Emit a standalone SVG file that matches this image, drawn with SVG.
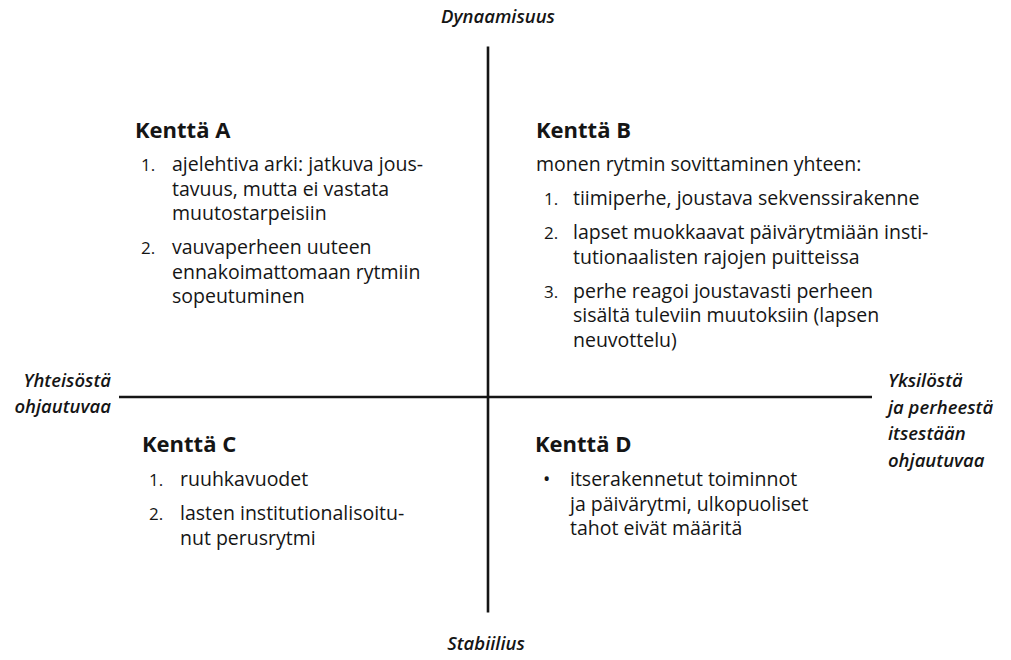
<svg xmlns="http://www.w3.org/2000/svg" width="1011" height="660" viewBox="0 0 1011 660">
<style>
text{font-family:"Open Sans","Noto Sans","Liberation Sans",sans-serif;fill:#151515}
.t{font-size:22px;font-weight:700}
.b{font-size:19.5px}
.n{font-size:17px}
.ax{font-size:18.5px;font-weight:600;font-style:italic}
.ax2{font-size:18.5px;font-weight:600;font-style:italic;text-anchor:end}
.ln{stroke:#151515;stroke-width:2.6;fill:none}
</style>
<rect width="1011" height="660" fill="#fff"/>
<g id="axes">
<line class="ln" x1="488" y1="46.5" x2="488" y2="612.5"/>
<line class="ln" x1="119" y1="397" x2="872" y2="397"/>
</g>
<g id="axis-labels">
<text class="ax" x="498" y="23" text-anchor="middle">Dynaamisuus</text>
<text class="ax" x="486" y="650" text-anchor="middle">Stabiilius</text>
<text class="ax2" x="111" y="387">Yhteisöstä</text>
<text class="ax2" x="111" y="413">ohjautuvaa</text>
<text class="ax" x="888" y="387">Yksilöstä</text>
<text class="ax" x="888" y="413.5">ja perheestä</text>
<text class="ax" x="888" y="440">itsestään</text>
<text class="ax" x="888" y="466.5">ohjautuvaa</text>
</g>
<g id="kentta-a">
<text class="t" x="135" y="138">Kenttä A</text>
<text class="b n" x="141" y="171">1.</text>
<text class="b" x="172" y="171">ajelehtiva arki: jatkuva jous-</text>
<text class="b" x="172" y="195.5">tavuus, mutta ei vastata</text>
<text class="b" x="172" y="220">muutostarpeisiin</text>
<text class="b n" x="141" y="254">2.</text>
<text class="b" x="172" y="254">vauvaperheen uuteen</text>
<text class="b" x="172" y="278.5">ennakoimattomaan rytmiin</text>
<text class="b" x="172" y="303">sopeutuminen</text>
</g>
<g id="kentta-b">
<text class="t" x="536" y="138">Kenttä B</text>
<text class="b" x="536" y="171">monen rytmin sovittaminen yhteen:</text>
<text class="b n" x="544" y="205">1.</text>
<text class="b" x="573" y="205">tiimiperhe, joustava sekvenssirakenne</text>
<text class="b n" x="544" y="239">2.</text>
<text class="b" x="573" y="239">lapset muokkaavat päivärytmiään insti-</text>
<text class="b" x="573" y="263.5">tutionaalisten rajojen puitteissa</text>
<text class="b n" x="544" y="297.5">3.</text>
<text class="b" x="573" y="297.5">perhe reagoi joustavasti perheen</text>
<text class="b" x="573" y="322">sisältä tuleviin muutoksiin (lapsen</text>
<text class="b" x="573" y="346.5">neuvottelu)</text>
</g>
<g id="kentta-c">
<text class="t" x="142" y="452">Kenttä C</text>
<text class="b n" x="149" y="486">1.</text>
<text class="b" x="180" y="486">ruuhkavuodet</text>
<text class="b n" x="149" y="520">2.</text>
<text class="b" x="180" y="520">lasten institutionalisoitu-</text>
<text class="b" x="180" y="544.5">nut perusrytmi</text>
</g>
<g id="kentta-d">
<text class="t" x="535" y="452">Kenttä D</text>
<text class="b" x="543" y="486">•</text>
<text class="b" x="570" y="486">itserakennetut toiminnot</text>
<text class="b" x="570" y="510.5">ja päivärytmi, ulkopuoliset</text>
<text class="b" x="570" y="535">tahot eivät määritä</text>
</g>
</svg>
